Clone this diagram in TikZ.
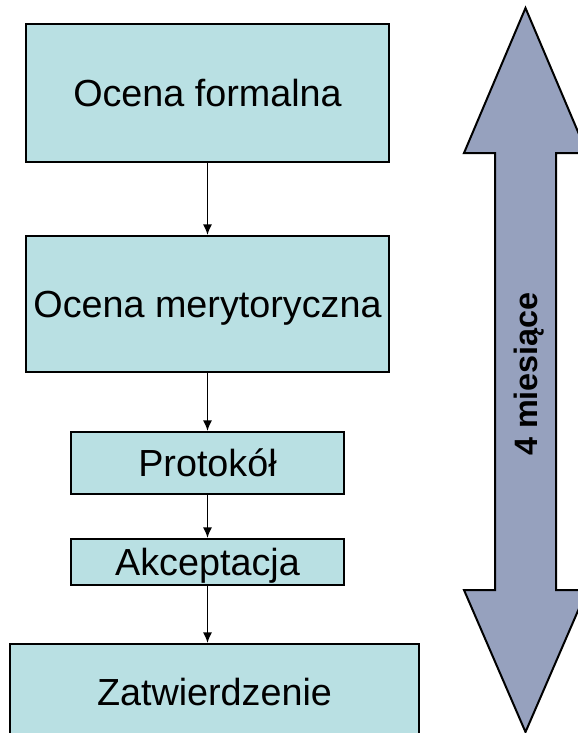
\documentclass[tikz,border=0pt]{standalone}
\usepackage{fontspec}
\setmainfont{Liberation Sans}
\usepackage{tikz}
\usetikzlibrary{arrows.meta,positioning}
\definecolor{boxfill}{RGB}{185,224,227}
\definecolor{arrowfill}{RGB}{150,161,190}
\newlength\px
\setlength\px{0.75pt}
\tikzset{
  basic/.style  = {draw, line width=1.5pt, rectangle, inner sep=0pt,
                   font=\fontsize{28.3}{34}\selectfont, text height=20.2pt, text depth=0pt},
  stage/.style  = {basic, fill=boxfill},
  link/.style   = {line width=1.3pt, -{Latex[length=8pt,width=7pt]}},
  span/.style   = {draw, line width=1.5pt, fill=arrowfill, line join=miter}
}

\begin{document}
\begin{tikzpicture}[x=0.75pt,y=-0.75pt]
\useasboundingbox (0,0) rectangle (578,733);
\clip (0,0) rectangle (578,733);
% steps of the procedure
\node[stage, minimum width=363\px, minimum height=138\px] (formal) at (207.5,93) {Ocena formalna};
\node[stage, minimum width=363\px, minimum height=136\px] (merit) at (207.5,304) {Ocena merytoryczna};
\node[stage, minimum width=273\px, minimum height=62\px] (protocol) at (207.5,463) {Protokół};
\node[stage, minimum width=273\px, minimum height=46\px] (accept) at (207.5,562) {Akceptacja};
\node[stage, minimum width=409\px, minimum height=96\px] (approve) at (214.5,692) {Zatwierdzenie};

\draw[link] (formal) -- (merit);
\draw[link] (merit) -- (protocol);
\draw[link] (protocol) -- (accept);
\draw[link] (accept.south) -- (accept.south |- approve.north);

% time span
\draw[span] (525.5,8) -- (587,153) -- (556,153) -- (556,590) -- (587,590) -- (525.5,732)
	-- (464,590) -- (495,590) -- (495,153) -- (464,153) -- cycle;
\node[rotate=90, inner sep=0pt, font=\bfseries\fontsize{24.3}{29}\selectfont,
	text height=17.4pt, text depth=0pt] (months) at (525.5,374) {4 miesiące};
\end{tikzpicture}
\end{document}
